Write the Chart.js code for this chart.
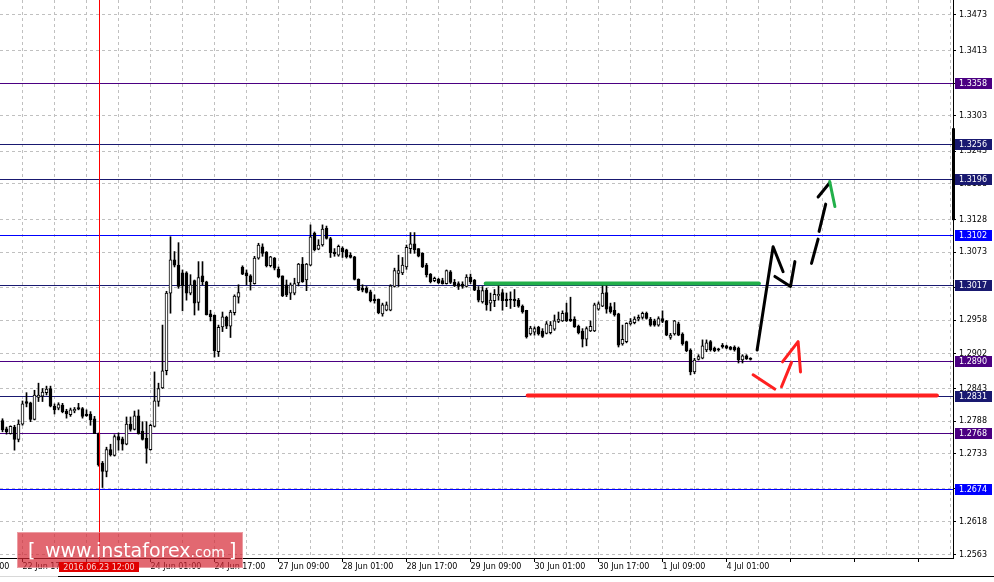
<!DOCTYPE html>
<html>
<head>
<meta charset="utf-8">
<script src="https://cdn.jsdelivr.net/npm/chart.js@4.4.0/dist/chart.umd.min.js"></script>
<style>
  html, body { margin: 0; padding: 0; background: #fff; }
  #wrap { width: 994px; height: 582px; }
</style>
</head>
<body>
<div id="wrap"><canvas id="chart"></canvas></div>
<script>
// H1 candles, bar 0 = 22 Jun 12:00, bar 187 = 4 Jul 07:00
const opens = [
  1.2789,1.2775,1.2767,1.2778,1.2757,1.2783,1.2821,1.2819,1.2791,1.2828,1.2830,1.2836,1.2843,1.2813,1.2810,1.2815,
  1.2805,1.2799,1.2805,1.2811,1.2809,1.2800,1.2800,1.2792,1.2767,1.2717,1.2703,1.2740,1.2730,1.2762,1.2758,1.2749,
  1.2783,1.2774,1.2797,1.2771,1.2759,1.2740,1.2779,1.2821,1.2844,1.2873,1.3004,1.3060,1.3051,1.3038,1.3038,1.3004,
  1.3025,1.2988,1.3033,1.3023,1.2969,1.2967,1.2905,1.2947,1.2963,1.2948,1.2971,1.2997,1.3048,1.3038,1.3033,1.3020,
  1.3063,1.3082,1.3073,1.3050,1.3063,1.3044,1.3033,1.3018,1.3004,1.3004,1.3021,1.3053,1.3026,1.3051,1.3105,1.3078,
  1.3085,1.3113,1.3096,1.3073,1.3068,1.3080,1.3077,1.3068,1.3065,1.3027,1.3012,1.3012,1.3006,1.2994,1.2994,1.2969,
  1.2975,1.2975,1.3015,1.3037,1.3038,1.3048,1.3079,1.3087,1.3079,1.3071,1.3051,1.3036,1.3025,1.3027,1.3025,1.3020,
  1.3040,1.3022,1.3020,1.3019,1.3015,1.3031,1.3026,1.3009,1.2989,1.3009,1.2987,1.2991,1.2999,1.3005,1.2994,1.2994,
  1.2994,1.2992,1.2982,1.2975,1.2935,1.2938,1.2946,1.2940,1.2936,1.2937,1.2943,1.2956,1.2957,1.2971,1.2960,1.2960,
  1.2948,1.2940,1.2926,1.2940,1.2940,1.2977,1.2982,1.3005,1.2981,1.2975,1.2969,1.2918,1.2922,1.2952,1.2954,1.2960,
  1.2963,1.2970,1.2960,1.2957,1.2950,1.2961,1.2957,1.2929,1.2935,1.2952,1.2935,1.2922,1.2908,1.2871,1.2892,1.2894,
  1.2908,1.2922,1.2911,1.2910,1.2916,1.2915,1.2913,1.2913,1.2911,1.2891,1.2898,1.2894
];
const highs = [
  1.2792,1.2778,1.2780,1.2781,1.2790,1.2822,1.2836,1.2820,1.2840,1.2852,1.2843,1.2847,1.2847,1.2817,1.2819,1.2818,
  1.2808,1.2810,1.2811,1.2818,1.2811,1.2807,1.2804,1.2796,1.2768,1.2720,1.2744,1.2749,1.2765,1.2768,1.2761,1.2795,
  1.2795,1.2805,1.2807,1.2787,1.2787,1.2783,1.2871,1.2852,1.2950,1.3007,1.3099,1.3074,1.3089,1.3043,1.3040,1.3035,
  1.3026,1.3057,1.3057,1.3024,1.2975,1.2967,1.2950,1.2972,1.2965,1.2975,1.3001,1.3018,1.3050,1.3043,1.3035,1.3066,
  1.3088,1.3087,1.3074,1.3066,1.3064,1.3048,1.3033,1.3026,1.3021,1.3029,1.3054,1.3064,1.3054,1.3119,1.3107,1.3094,
  1.3119,1.3117,1.3098,1.3079,1.3085,1.3082,1.3078,1.3072,1.3066,1.3028,1.3018,1.3015,1.3009,1.3001,1.2994,1.2987,
  1.2989,1.3018,1.3046,1.3068,1.3064,1.3085,1.3106,1.3106,1.3079,1.3072,1.3054,1.3037,1.3031,1.3029,1.3029,1.3043,
  1.3042,1.3027,1.3023,1.3023,1.3035,1.3036,1.3027,1.3015,1.3015,1.3012,1.3004,1.3010,1.3018,1.3010,1.3004,1.3006,
  1.3010,1.2995,1.2984,1.2975,1.2948,1.2947,1.2948,1.2944,1.2956,1.2956,1.2967,1.2972,1.2974,1.2987,1.2997,1.2964,
  1.2950,1.2944,1.2947,1.2957,1.2987,1.2989,1.3018,1.3018,1.2987,1.2988,1.2970,1.2950,1.2954,1.2961,1.2964,1.2967,
  1.2972,1.2972,1.2963,1.2960,1.2964,1.2974,1.2958,1.2936,1.2958,1.2955,1.2937,1.2923,1.2910,1.2894,1.2900,1.2925,
  1.2925,1.2924,1.2913,1.2911,1.2919,1.2916,1.2914,1.2915,1.2913,1.2900,1.2900,1.2895
];
const lows = [
  1.2770,1.2766,1.2766,1.2739,1.2753,1.2781,1.2812,1.2787,1.2790,1.2821,1.2821,1.2832,1.2812,1.2800,1.2807,1.2802,
  1.2793,1.2796,1.2802,1.2807,1.2793,1.2796,1.2781,1.2767,1.2712,1.2676,1.2694,1.2729,1.2729,1.2739,1.2739,1.2748,
  1.2771,1.2773,1.2766,1.2756,1.2717,1.2739,1.2778,1.2813,1.2843,1.2866,1.2970,1.3048,1.3012,1.2974,1.2992,1.3001,
  1.2967,1.2975,1.3018,1.2967,1.2957,1.2896,1.2897,1.2939,1.2944,1.2929,1.2967,1.2987,1.3035,1.3018,1.3009,1.3019,
  1.3061,1.3066,1.3048,1.3048,1.3043,1.3030,1.2998,1.2998,1.2993,1.3001,1.3016,1.3022,1.3008,1.3050,1.3075,1.3077,
  1.3083,1.3095,1.3064,1.3066,1.3066,1.3064,1.3063,1.3063,1.3026,1.3008,1.3006,1.3004,1.2989,1.2987,1.2969,1.2965,
  1.2974,1.2974,1.3014,1.3015,1.3035,1.3044,1.3071,1.3071,1.3065,1.3047,1.3031,1.3021,1.3023,1.3020,1.3019,1.3019,
  1.3020,1.3015,1.3010,1.3012,1.3014,1.3020,1.3008,1.2989,1.2987,1.2975,1.2974,1.2981,1.2992,1.2975,1.2981,1.2978,
  1.2981,1.2980,1.2970,1.2928,1.2933,1.2933,1.2933,1.2929,1.2935,1.2935,1.2941,1.2954,1.2956,1.2956,1.2956,1.2946,
  1.2935,1.2913,1.2915,1.2939,1.2939,1.2975,1.2981,1.2970,1.2970,1.2965,1.2913,1.2916,1.2920,1.2950,1.2952,1.2957,
  1.2960,1.2960,1.2948,1.2948,1.2948,1.2954,1.2932,1.2926,1.2933,1.2932,1.2916,1.2905,1.2866,1.2868,1.2891,1.2893,
  1.2905,1.2906,1.2905,1.2906,1.2911,1.2910,1.2908,1.2906,1.2886,1.2886,1.2892,1.2891
];
const closes = [
  1.2773,1.2770,1.2779,1.2757,1.2783,1.2817,1.2818,1.2791,1.2832,1.2832,1.2837,1.2842,1.2813,1.2807,1.2816,1.2804,
  1.2800,1.2807,1.2808,1.2808,1.2796,1.2797,1.2790,1.2767,1.2714,1.2703,1.2740,1.2731,1.2762,1.2756,1.2749,1.2783,
  1.2774,1.2797,1.2767,1.2757,1.2742,1.2781,1.2822,1.2843,1.2873,1.3004,1.3060,1.3051,1.3015,1.3016,1.3004,1.3018,
  1.2987,1.3030,1.3023,1.2967,1.2964,1.2907,1.2946,1.2964,1.2948,1.2972,1.2999,1.3005,1.3036,1.3033,1.3023,1.3063,
  1.3085,1.3071,1.3050,1.3065,1.3046,1.3031,1.2999,1.3001,1.3018,1.3020,1.3053,1.3023,1.3053,1.3099,1.3077,1.3085,
  1.3112,1.3096,1.3072,1.3070,1.3083,1.3074,1.3065,1.3064,1.3027,1.3009,1.3009,1.3005,1.2991,1.2991,1.2971,1.2984,
  1.2984,1.3016,1.3042,1.3042,1.3051,1.3081,1.3087,1.3077,1.3066,1.3048,1.3035,1.3023,1.3029,1.3021,1.3020,1.3042,
  1.3022,1.3016,1.3015,1.3015,1.3031,1.3023,1.3009,1.2992,1.3008,1.2984,1.2992,1.3002,1.3002,1.2991,1.2991,1.2992,
  1.2991,1.2982,1.2972,1.2930,1.2945,1.2944,1.2935,1.2931,1.2952,1.2950,1.2957,1.2960,1.2970,1.2957,1.2957,1.2947,
  1.2937,1.2926,1.2944,1.2948,1.2984,1.2986,1.3004,1.2977,1.2972,1.2967,1.2916,1.2926,1.2953,1.2956,1.2960,1.2963,
  1.2970,1.2961,1.2950,1.2950,1.2961,1.2956,1.2933,1.2933,1.2957,1.2933,1.2918,1.2907,1.2871,1.2891,1.2897,1.2915,
  1.2920,1.2908,1.2907,1.2908,1.2913,1.2911,1.2909,1.2908,1.2891,1.2898,1.2893,1.2892
];

// time axis labels, one every 16 bars starting at bar -11
const xTickLabels = ['22 Jun 01:00','22 Jun 17:00','23 Jun 09:00','24 Jun 01:00','24 Jun 17:00','27 Jun 09:00',
  '28 Jun 01:00','28 Jun 17:00','29 Jun 09:00','30 Jun 01:00','30 Jun 17:00','1 Jul 09:00','4 Jul 01:00'];
const yTickValues = [1.3473,1.3413,1.3358,1.3303,1.3243,1.3188,1.3128,1.3073,1.3013,1.2958,1.2902,1.2843,
  1.2788,1.2733,1.2674,1.2618,1.2563];

// horizontal levels drawn on the chart
const levelValues = [1.3358, 1.3256, 1.3196, 1.3102, 1.3017, 1.2890, 1.2831, 1.2768, 1.2674];
const levelColors = ['#4b0082','#191970','#191970','#0000ff','#191970','#4b0082','#191970','#4b0082','#0000ff'];

// vertical event line
const eventBar = 24;
const eventLabel = '2016.06.23 12:00';

// support / resistance segments  (bar index, price)
const resistanceLine = [{x: 120.8, y: 1.3020}, {x: 189.1, y: 1.3020}];
const supportLine = [{x: 131.3, y: 1.2831}, {x: 233.6, y: 1.2831}];

// hand drawn scenario arrows
const upArrowA = [{x: 188.65, y: 1.2908}, {x: 192.65, y: 1.3082}, {x: 195.15, y: 1.3040}];
const upArrowB = [{x: 193.1, y: 1.3032}, {x: 197.0, y: 1.3015}, {x: 198.1, y: 1.3057}];
const upArrowDashed = [{x: 202.25, y: 1.3054}, {x: 203.9, y: 1.3095}, {x: 203.9, y: null},
  {x: 204.15, y: 1.3108}, {x: 205.8, y: 1.3154}, {x: 205.8, y: null},
  {x: 203.9, y: 1.3166}, {x: 206.8, y: 1.3190}];
const targetTip = [{x: 206.8, y: 1.3192}, {x: 208.1, y: 1.3150}];
const downArrow = [{x: 187.65, y: 1.2866}, {x: 193.05, y: 1.2842}, {x: 193.05, y: null},
  {x: 194.75, y: 1.2846}, {x: 197.25, y: 1.2887}, {x: 197.25, y: null},
  {x: 195.0, y: 1.2888}, {x: 198.9, y: 1.2922}, {x: 199.5, y: 1.2871}];

// price-scale marker
const scaleMarkTop = 1.3282, scaleMarkBottom = 1.3127;

const FONT = '"DejaVu Sans", Verdana, sans-serif';
Chart.defaults.font.family = FONT;
Chart.defaults.font.size = 8;
Chart.defaults.color = '#000';

const bodyData = opens.map((o, i) => ({x: i, y: [Math.min(o, closes[i]), Math.max(o, closes[i])]}));
const wickData = opens.map((o, i) => ({x: i, y: [lows[i], highs[i]]}));
const bodyColors = opens.map((o, i) => closes[i] >= o ? '#ffffff' : '#000000');

const lineSet = (data, color, extra) => Object.assign({
  type: 'line', data, borderColor: color, borderWidth: 3, pointRadius: 0,
  borderCapStyle: 'round', borderJoinStyle: 'round', tension: 0, spanGaps: false
}, extra || {});

const overlays = {
  id: 'overlays',
  beforeDatasetsDraw(chart) {
    const {ctx, chartArea: a, scales: {y}} = chart;
    ctx.save();
    levelValues.forEach((v, i) => {
      const py = Math.round(y.getPixelForValue(v));
      ctx.fillStyle = levelColors[i];
      ctx.fillRect(a.left, py, a.right - a.left, 1);
    });
    ctx.restore();
  },
  afterDraw(chart) {
    const {ctx, chartArea: a, scales: {x, y}} = chart;
    ctx.save();
    // vertical event line
    const ex = Math.round(x.getPixelForValue(eventBar));
    ctx.fillStyle = '#ff0000';
    ctx.fillRect(ex, a.top, 1, a.bottom - a.top + 4);

    // marker on the price scale
    const t = y.getPixelForValue(scaleMarkTop), b = y.getPixelForValue(scaleMarkBottom);
    ctx.fillStyle = '#000';
    ctx.fillRect(a.right - 1, t, 3, b - t);

    // level labels on the price scale
    ctx.font = '8px ' + FONT;
    ctx.textBaseline = 'middle';
    ctx.textAlign = 'left';
    levelValues.forEach((v, i) => {
      const py = Math.round(y.getPixelForValue(v));
      ctx.fillStyle = levelColors[i];
      ctx.fillRect(a.right + 2, py - 5, 37, 11);
      ctx.fillStyle = '#fff';
      ctx.fillText(v.toFixed(4), a.right + 6, py + 0.5);
    });

    // watermark
    ctx.fillStyle = 'rgba(214, 40, 52, 0.7)';
    ctx.fillRect(17, 532, 226, 36);
    ctx.strokeStyle = 'rgba(255,255,255,0.35)';
    ctx.lineWidth = 1;
    ctx.strokeRect(17.5, 532.5, 225, 35);
    ctx.fillStyle = '#fff';
    ctx.textBaseline = 'alphabetic';
    ctx.font = '19px ' + FONT;
    ctx.fillText('[', 28, 557);
    ctx.fillText('www.instaforex', 45, 557);
    const w = ctx.measureText('www.instaforex').width;
    ctx.font = '14px ' + FONT;
    ctx.fillText('.com', 45 + w, 557);
    ctx.font = '19px ' + FONT;
    ctx.fillText(']', 229, 557);

    // event label on the time axis
    ctx.fillStyle = '#e00000';
    ctx.fillRect(ex - 40, a.bottom + 4, 80, 10);
    ctx.fillStyle = '#f6d0d0';
    ctx.font = '8px ' + FONT;
    ctx.textAlign = 'center';
    ctx.textBaseline = 'middle';
    ctx.fillText(eventLabel, ex, a.bottom + 9.5);

    // window edge
    ctx.fillStyle = '#d8d8d8';
    ctx.fillRect(0, 576, 58, 1);
    ctx.fillStyle = '#000';
    ctx.fillRect(58, 576, chart.width - 58, 1);
    ctx.restore();
  }
};

new Chart(document.getElementById('chart'), {
  type: 'bar',
  data: {
    datasets: [
      lineSet(supportLine, '#ff2020', {borderWidth: 4}),
      lineSet(resistanceLine, '#22b04a', {borderWidth: 4}),
      lineSet(targetTip, '#22b04a'),
      lineSet(upArrowA, '#000'),
      lineSet(upArrowB, '#000'),
      lineSet(upArrowDashed, '#000'),
      lineSet(downArrow, '#ff2020'),
      {
        type: 'bar', data: bodyData, grouped: false, barThickness: 3,
        backgroundColor: bodyColors, borderColor: '#000', borderWidth: 1, borderSkipped: false
      },
      {
        type: 'bar', data: wickData, grouped: false, barThickness: 1,
        backgroundColor: '#000', borderWidth: 0
      }
    ]
  },
  options: {
    responsive: true,
    maintainAspectRatio: false,
    animation: false,
    events: [],
    layout: {padding: 0},
    plugins: {legend: {display: false}, tooltip: {enabled: false}},
    scales: {
      x: {
        type: 'linear', min: -0.625, max: 237.625, offset: false,
        grid: {
          offset: false, color: '#c0c0c0', lineWidth: 1, tickLength: 4,
          tickColor: c => ((c.tick.value + 11) % 16 === 0 ? '#000' : 'rgba(0,0,0,0)')
        },
        border: {color: '#000', width: 1, dash: [3, 3]},
        ticks: {
          autoSkip: false, maxRotation: 0, align: 'start', padding: 0,
          callback: v => {
            const k = (v + 11) / 16;
            return Number.isInteger(k) && xTickLabels[k] ? xTickLabels[k] : '';
          }
        },
        afterBuildTicks: s => {
          const t = [{value: -11}];
          for (let b = 5; b <= 237; b += 8) t.push({value: b});
          s.ticks = t;
        },
        afterFit: s => { s.height = 24; s.paddingLeft = 0; s.paddingRight = 0; }
      },
      y: {
        type: 'linear', position: 'right', min: 1.25571, max: 1.34983, beginAtZero: false,
        grid: {color: '#c0c0c0', lineWidth: 1, tickLength: 3, tickColor: '#000'},
        border: {color: '#000', width: 1, dash: [3, 3]},
        ticks: {autoSkip: false, padding: 3, callback: v => v.toFixed(4)},
        afterBuildTicks: s => { s.ticks = yTickValues.map(v => ({value: v})); },
        afterFit: s => { s.width = 41; s.paddingTop = 0; s.paddingBottom = 0; }
      }
    }
  },
  plugins: [overlays]
});
</script>
</body>
</html>
